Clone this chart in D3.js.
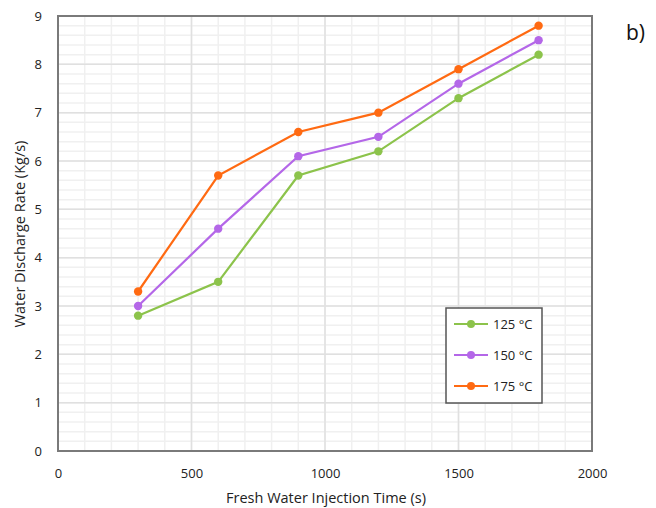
<!DOCTYPE html>
<html>
<head>
<meta charset="utf-8">
<script src="https://cdn.jsdelivr.net/npm/d3@7"></script>
<style>
  html, body { margin: 0; padding: 0; background: #fff; }
  svg { display: block; font-family: "Open Sans", Lato, sans-serif; }
</style>
</head>
<body>
<svg id="chart" width="656" height="508"></svg>
<script>
// Injection times (s)
const injectionTimes = [300, 600, 900, 1200, 1500, 1800];
// Discharge rate (kg/s) per temperature
const rate125 = [2.8, 3.5, 5.7, 6.2, 7.3, 8.2];
const rate150 = [3.0, 4.6, 6.1, 6.5, 7.6, 8.5];
const rate175 = [3.3, 5.7, 6.6, 7.0, 7.9, 8.8];
const seriesNames = ["125 °C", "150 °C", "175 °C"];
const seriesColors = ["#8cc34b", "#b467e8", "#ff6a12"];
const xTicks = [0, 500, 1000, 1500, 2000];
const yTicks = [0, 1, 2, 3, 4, 5, 6, 7, 8, 9];

const series = [rate125, rate150, rate175].map((vals, i) => ({
  name: seriesNames[i],
  color: seriesColors[i],
  points: vals.map((v, j) => ({ x: injectionTimes[j], y: v }))
}));

const svg = d3.select("#chart");
const plot = { left: 58, top: 16, right: 592, bottom: 451 };

const x = d3.scaleLinear().domain([0, 2000]).range([plot.left, plot.right]);
const y = d3.scaleLinear().domain([0, 9]).range([plot.bottom, plot.top]);

// Minor grid
const g = svg.append("g");
g.selectAll(".vminor").data(d3.range(0, 2001, 100)).join("line")
  .attr("x1", d => x(d)).attr("x2", d => x(d))
  .attr("y1", plot.top).attr("y2", plot.bottom)
  .attr("stroke", "#f0f0f0").attr("stroke-width", 1.5);
g.selectAll(".hminor").data(d3.range(0, 45).map(i => i * 0.2)).join("line")
  .attr("y1", d => y(d)).attr("y2", d => y(d))
  .attr("x1", plot.left).attr("x2", plot.right)
  .attr("stroke", "#f0f0f0").attr("stroke-width", 1.5);

// Major grid
g.selectAll(".vmajor").data(xTicks).join("line")
  .attr("x1", d => x(d)).attr("x2", d => x(d))
  .attr("y1", plot.top).attr("y2", plot.bottom)
  .attr("stroke", "#e0e0e0").attr("stroke-width", 1.5);
g.selectAll(".hmajor").data(yTicks).join("line")
  .attr("y1", d => y(d)).attr("y2", d => y(d))
  .attr("x1", plot.left).attr("x2", plot.right)
  .attr("stroke", "#e0e0e0").attr("stroke-width", 1.5);

// Frame
svg.append("rect")
  .attr("x", plot.left).attr("y", plot.top)
  .attr("width", plot.right - plot.left).attr("height", plot.bottom - plot.top)
  .attr("fill", "none").attr("stroke", "#7a7a7a").attr("stroke-width", 2);

// Axes (labels only)
const xAxis = svg.append("g")
  .attr("transform", `translate(0,${plot.bottom + 14})`)
  .call(d3.axisBottom(x).tickValues(xTicks).tickFormat(d3.format("d")).tickSize(0).tickPadding(4));
const yAxis = svg.append("g")
  .attr("transform", `translate(${plot.left - 13},0)`)
  .call(d3.axisLeft(y).tickValues(yTicks).tickFormat(d3.format("d")).tickSize(0).tickPadding(3));
[xAxis, yAxis].forEach(a => {
  a.select(".domain").remove();
  a.selectAll("text").attr("font-size", 13).attr("fill", "#222")
    .attr("font-family", "'Open Sans', Lato, sans-serif");
});

// Lines and markers
const line = d3.line().x(d => x(d.x)).y(d => y(d.y));
const sg = svg.append("g").selectAll("g").data(series).join("g");
sg.append("path")
  .attr("d", d => line(d.points))
  .attr("fill", "none").attr("stroke", d => d.color).attr("stroke-width", 2.2);
sg.selectAll("circle").data(d => d.points.map(p => ({ ...p, color: d.color }))).join("circle")
  .attr("cx", d => x(d.x)).attr("cy", d => y(d.y)).attr("r", 4.2)
  .attr("fill", d => d.color);

// Legend
const lg = svg.append("g").attr("transform", "translate(446,308)");
lg.append("rect").attr("width", 96).attr("height", 95)
  .attr("fill", "#fff").attr("stroke", "#555").attr("stroke-width", 1.5);
const items = lg.selectAll("g").data(series).join("g")
  .attr("transform", (d, i) => `translate(0,${16 + i * 31})`);
items.append("line").attr("x1", 8).attr("x2", 42).attr("y1", 0).attr("y2", 0)
  .attr("stroke", d => d.color).attr("stroke-width", 2.2);
items.append("circle").attr("cx", 25).attr("cy", 0).attr("r", 4).attr("fill", d => d.color);
items.append("text").attr("x", 47).attr("y", 0).attr("dy", "0.35em")
  .attr("font-size", 13).attr("fill", "#222").text(d => d.name);

// Axis titles
svg.append("text")
  .attr("x", 326).attr("y", 503).attr("text-anchor", "middle")
  .attr("font-size", 14.5).attr("fill", "#222")
  .text("Fresh Water Injection Time (s)");
svg.append("text")
  .attr("transform", "translate(25,234) rotate(-90)").attr("text-anchor", "middle")
  .attr("font-size", 14.5).attr("fill", "#222")
  .text("Water Discharge Rate (Kg/s)");

// Panel label
svg.append("text")
  .attr("x", 626).attr("y", 40)
  .attr("font-size", 21).attr("fill", "#111")
  .text("b)");
</script>
</body>
</html>
